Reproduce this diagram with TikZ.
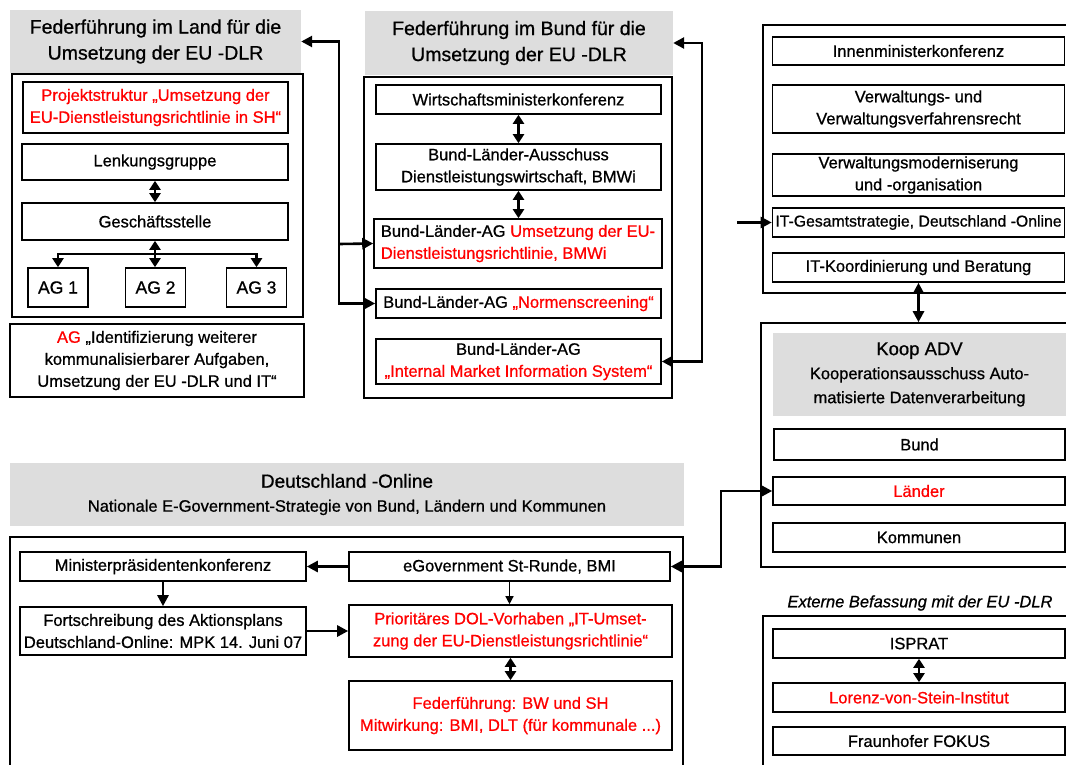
\documentclass[tikz,border=0pt]{standalone}
\usepackage{fontspec}
\setmainfont{Liberation Sans}[RawFeature={embolden=0.8}]
\usetikzlibrary{arrows.meta}
\definecolor{headgrey}{RGB}{221,221,221}

\begin{document}
\begin{tikzpicture}[x=1pt,y=-1pt,
  font=\fontsize{16.5}{22}\selectfont,
  sz/.style 2 args={minimum width=#1pt,minimum height=#2pt},
  box/.style={draw,line width=1.6pt,fill=white,align=center,inner sep=0pt},
  panel/.style={draw,line width=1.6pt,inner sep=0pt},
  head/.style={fill=headgrey,align=center,inner sep=0pt,font=\fontsize{19.5}{26}\selectfont},
  conn/.style={line width=2.6pt,>={Triangle[length=11pt,width=11pt]}},
  link/.style={line width=2.4pt,>={Triangle[length=9pt,width=11pt]}},
  thin/.style={line width=1.3pt,>={Triangle[length=8pt,width=8pt]}}]
\useasboundingbox (0,0) rectangle (1066,764);
\clip (0,0) rectangle (1066,764);

\node[head,sz={291}{63}] (ltitle) at (155.5,41.5) {Federführung im Land für die\\Umsetzung der EU -DLR};
\node[panel,sz={291}{243}] (lpanel) at (157.5,195.5) {};
\node[box,sz={265}{51},text=red] (proj) at (155.5,107.5) {Projektstruktur „Umsetzung der\\EU-Dienstleistungsrichtlinie in SH“};
\node[box,sz={266}{36}] (lenk) at (155,162) {Lenkungsgruppe};
\node[box,sz={266}{37}] (gesch) at (155,221.5) {Geschäftsstelle};
\node[box,sz={60}{39},font=\fontsize{17.5}{22}\selectfont] (ag1) at (58,287.5) {AG 1};
\node[box,sz={60}{39},font=\fontsize{17.5}{22}\selectfont] (ag2) at (155.5,287.5) {AG 2};
\node[box,sz={60}{39},font=\fontsize{17.5}{22}\selectfont] (ag3) at (256.5,287.5) {AG 3};
\node[box,sz={294}{73}] (agid) at (157,360.5) {{\color{red}AG} „Identifizierung weiterer\\kommunalisierbarer Aufgaben,\\Umsetzung der EU -DLR und IT“};

\node[head,sz={308}{64}] (mtitle) at (519,43) {Federführung im Bund für die\\Umsetzung der EU -DLR};
\node[panel,sz={308}{321}] (mpanel) at (518,237.5) {};
\node[box,sz={285}{29}] (wmk) at (518.5,99.5) {Wirtschaftsministerkonferenz};
\node[box,sz={285}{46}] (bla) at (518.5,167) {Bund-Länder-Ausschuss\\Dienstleistungswirtschaft, BMWi};
\node[box,sz={288}{49},align=left] (blag) at (518,243.5) {Bund-Länder-AG {\color{red}Umsetzung der EU-}\\{\color{red}Dienstleistungsrichtlinie, BMWi}};
\node[box,sz={285}{29}] (norm) at (518.5,303.5) {Bund-Länder-AG {\color{red}„Normenscreening“}};
\node[box,sz={285}{45}] (imis) at (518.5,361.5) {Bund-Länder-AG\\{\color{red}„Internal Market Information System“}};

\node[panel,sz={312}{268}] (rpanel) at (919,159) {};
\node[box,sz={292}{28}] (imk) at (918.5,51) {Innenministerkonferenz};
\node[box,sz={292}{48}] (vwr) at (918.5,109) {Verwaltungs- und\\Verwaltungsverfahrensrecht};
\node[box,sz={292}{42}] (vwm) at (918.5,175) {Verwaltungsmoderniserung\\und -organisation};
\node[box,sz={292}{29},font=\fontsize{15.8}{22}\selectfont] (itg) at (918.5,222.5) {IT-Gesamtstrategie, Deutschland -Online};
\node[box,sz={292}{29}] (itk) at (918.5,267.5) {IT-Koordinierung und Beratung};

\node[panel,sz={316}{244}] (koop) at (919,445) {};
\node[head,sz={293}{83},font=\fontsize{16.5}{24}\selectfont] (kooptitle) at (919.5,374.5) {{\fontsize{18.5}{24}\selectfont Koop ADV}\\Kooperationsausschuss Auto-\\matisierte Datenverarbeitung};
\node[box,sz={291}{31}] (bund) at (919.5,444.5) {Bund};
\node[box,sz={292}{28},text=red] (laender) at (919,491) {Länder};
\node[box,sz={292}{29}] (kommunen) at (919,537.5) {Kommunen};

\node[font=\itshape\fontsize{16.5}{22}\selectfont] (extlabel) at (920,603) {Externe Befassung mit der EU -DLR};
\node[panel,sz={314}{164}] (ext) at (920,698) {};
\node[box,sz={292}{29}] (isprat) at (919,643.5) {ISPRAT};
\node[box,sz={292}{29},text=red] (lorenz) at (919,697.5) {Lorenz-von-Stein-Institut};
\node[box,sz={292}{28}] (fokus) at (919,741) {Fraunhofer FOKUS};

\node[head,sz={674}{63},font=\fontsize{16.5}{24}\selectfont] (dtitle) at (347,494.5) {{\fontsize{19}{24}\selectfont Deutschland -Online}\\Nationale E-Government-Strategie von Bund, Ländern und Kommunen};
\node[panel,sz={673}{243}] (dpanel) at (346.5,658.5) {};
\node[box,sz={286}{29}] (mpk) at (163,566.5) {Ministerpräsidentenkonferenz};
\node[box,sz={321}{29}] (egov) at (509.5,566.5) {eGovernment St-Runde, BMI};
\node[box,sz={286}{48}] (fort) at (163,631) {Fortschreibung des Aktionsplans\\Deutschland-Online: MPK 14. Juni 07};
\node[box,sz={323}{52},text=red] (prio) at (510.5,631) {Prioritäres DOL-Vorhaben „IT-Umset-\\zung der EU-Dienstleistungsrichtlinie“};
\node[box,sz={323}{69},text=red] (fed) at (510.5,715.5) {Federführung: BW und SH\\Mitwirkung: BMI, DLT (für kommunale ...)};

\coordinate (lj) at (339,244);
\coordinate (mr) at (702,200);
\coordinate (itin) at (737,222.5);
\coordinate (bar) at (155,254);

\draw[conn,<->] (ltitle.east) -| (lj) |- (norm.west);
\draw[conn,->] (lj) -- (blag.west);
\draw[conn,<->] (mtitle.east) -| (mr) |- (imis.east);
\draw[conn,->] (itin) -- (itg.west);
\draw[conn,<->] (itk.south) -- (itk.south |- koop.north);
\draw[conn,<->] (egov.east) -- ++(50,0) |- (laender.west);

\draw[link,<->] (lenk.south) -- (gesch.north);
\draw[link,<->] (gesch.south) -- (gesch.south |- ag2.north);
\draw[link,->] (bar) -| (ag1.north);
\draw[link,->] (bar) -| (ag3.north);
\draw[link,<->] (wmk.south) -- (bla.north);
\draw[link,<->] (bla.south) -- (bla.south |- blag.north);
\draw[link,<->] (isprat.south) -- (lorenz.north);
\draw[link,<->] (prio.south) -- (fed.north);
\draw[conn,->] (egov.west) -- (mpk.east);
\draw[conn,->] (mpk.south) -- (fort.north);
\draw[conn,->] (fort.east) -- (prio.west);
\draw[thin,->] (egov.south) -- (egov.south |- prio.north);
\end{tikzpicture}
\end{document}
